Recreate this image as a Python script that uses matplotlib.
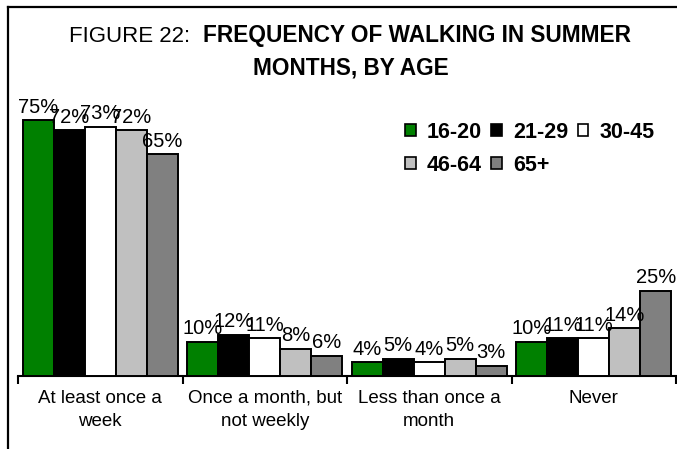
import matplotlib
matplotlib.use("Agg")
from matplotlib import pyplot as plt
from matplotlib.lines import Line2D
from matplotlib.patches import Patch
import numpy as np

plt.rcParams['font.family'] = ['Liberation Sans', 'DejaVu Sans']

categories = ["At least once a\nweek", "Once a month, but\nnot weekly",
              "Less than once a\nmonth", "Never"]
age_groups = ["16-20", "21-29", "30-45", "46-64", "65+"]
values = {
    "16-20": [75, 10, 4, 10],
    "21-29": [72, 12, 5, 11],
    "30-45": [73, 11, 4, 11],
    "46-64": [72, 8, 5, 14],
    "65+": [65, 6, 3, 25],
}
colors = ["#008000", "#000000", "#ffffff", "#c0c0c0", "#808080"]

W, H = 677, 449
fig = plt.figure(figsize=(W / 100, H / 100), dpi=100)

# axes placed in pixel terms: baseline at y=376, x from 18 to 676
ax = fig.add_axes([18 / W, 1 - 376 / H, 658 / W, 80 * 3.41 / H])
ax.set_xlim(0, len(categories))
ax.set_ylim(0, 80)

bar_w = 0.1885
x = np.arange(len(categories)) + 0.5
for j, (grp, col) in enumerate(zip(age_groups, colors)):
    pos = x + (j - 2) * bar_w
    vals = values[grp]
    ax.bar(pos, vals, width=bar_w, color=col, edgecolor="black",
           linewidth=1.4, zorder=3)
    for px, v in zip(pos, vals):
        ax.annotate("%d%%" % v, (px, v), xytext=(0, 5.5),
                    textcoords="offset points", ha="center", va="baseline",
                    fontsize=14.5, clip_on=False, zorder=4)

for s in ["left", "top", "right"]:
    ax.spines[s].set_visible(False)
ax.spines["bottom"].set_linewidth(1.5)
ax.set_yticks([])
ax.set_xticks(np.arange(len(categories) + 1))
ax.set_xticklabels([])
ax.tick_params(axis="x", which="major", length=6, width=1.5, direction="out")
ax.set_xticks(x, minor=True)
ax.set_xticklabels(categories, minor=True, fontsize=13.5, linespacing=1.45)
ax.tick_params(axis="x", which="minor", length=0, pad=10)

# legend, row-wise order across 3 columns
handles = [Patch(facecolor=c, edgecolor="black", linewidth=1.2) for c in colors]
order = [0, 3, 1, 4, 2]
fig.legend([handles[i] for i in order], [age_groups[i] for i in order],
           ncol=3, loc="upper left", bbox_to_anchor=(405 / W, 1 - 122 / H),
           frameon=False, borderpad=0, borderaxespad=0,
           handlelength=0.5, handleheight=0.5, handletextpad=0.5,
           columnspacing=0.45, labelspacing=0.55,
           prop={"weight": "bold", "size": 15.5})

# title
fig.text(190 / W, 1 - 42 / H, "FIGURE 22:", ha="right", va="baseline",
         fontsize=16)
fig.text(203 / W, 1 - 42 / H, "FREQUENCY OF WALKING IN SUMMER", ha="left",
         va="baseline", fontsize=16.3, fontweight="bold")
fig.text(351 / W, 1 - 74 / H, "MONTHS, BY AGE", ha="center",
         va="baseline", fontsize=16.3, fontweight="bold")

# frame lines on left and top
fig.add_artist(Line2D([8 / W, 8 / W], [0, 1 - 7 / H], color="black",
                      linewidth=1.6, transform=fig.transFigure))
fig.add_artist(Line2D([8 / W, 1], [1 - 7 / H, 1 - 7 / H], color="black",
                      linewidth=1.6, transform=fig.transFigure))

fig.savefig("out.png", dpi=100)
